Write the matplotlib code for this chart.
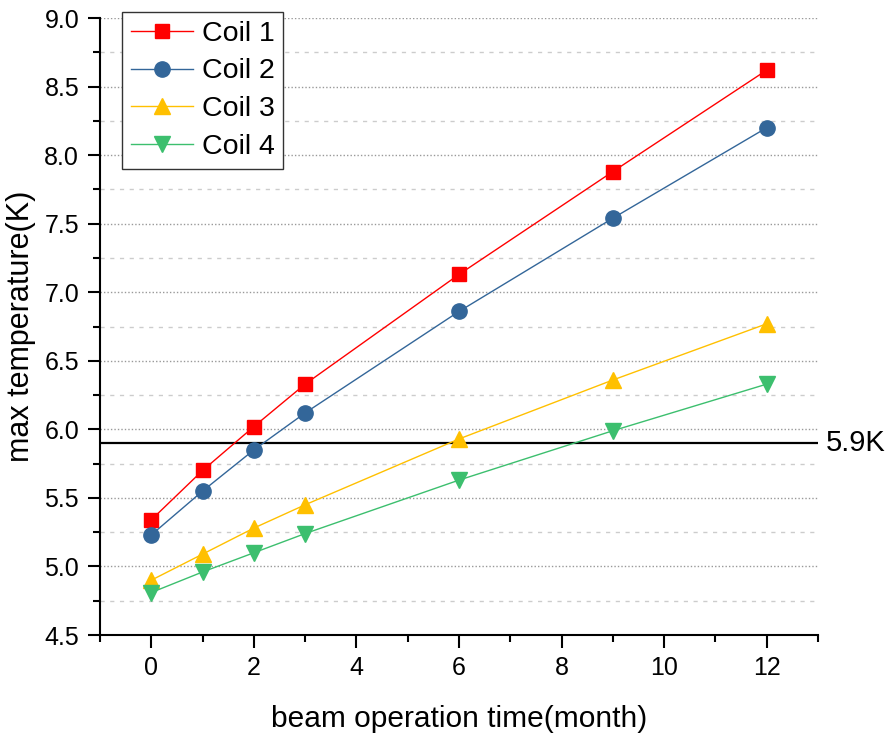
import numpy as np
import matplotlib
matplotlib.use("Agg")
import matplotlib.pyplot as plt
from matplotlib.ticker import MultipleLocator, FormatStrFormatter

plt.rcParams['font.family'] = ['Liberation Sans', 'DejaVu Sans']

months = [0, 1, 2, 3, 6, 9, 12]
coil1 = [5.34, 5.70, 6.02, 6.33, 7.13, 7.88, 8.62]
coil2 = [5.23, 5.55, 5.85, 6.12, 6.86, 7.54, 8.20]
coil3 = [4.90, 5.09, 5.28, 5.45, 5.93, 6.36, 6.77]
coil4 = [4.81, 4.96, 5.10, 5.24, 5.63, 5.99, 6.33]
limit = 5.9

fig = plt.figure(figsize=(8.88, 7.35), dpi=100)
ax = fig.add_axes([0.1126, 0.136, 0.8086, 0.8395])

ax.plot(months, coil1, color='#FF0000', marker='s', ms=10, mec='#FF0000', lw=1, label='Coil 1', zorder=5)
ax.plot(months, coil2, color='#336699', marker='o', ms=11, mec='#336699', lw=1, label='Coil 2', zorder=5)
ax.plot(months, coil3, color='#FFC000', marker='^', ms=12, mec='#FFC000', lw=1, label='Coil 3', zorder=5)
ax.plot(months, coil4, color='#3CBF6E', marker='v', ms=12, mec='#3CBF6E', lw=1, label='Coil 4', zorder=5)

ax.axhline(limit, color='black', lw=1.6, zorder=4)
ax.text(13.15, limit, '5.9K', fontsize=21, va='center', ha='left')

ax.set_xlim(-1, 13)
ax.set_ylim(4.5, 9.0)
ax.xaxis.set_major_locator(MultipleLocator(2))
ax.xaxis.set_minor_locator(MultipleLocator(1))
ax.yaxis.set_major_locator(MultipleLocator(0.5))
ax.yaxis.set_minor_locator(MultipleLocator(0.25))
ax.yaxis.set_major_formatter(FormatStrFormatter('%.1f'))

ax.grid(which='major', axis='y', color='#999999', ls=(0, (1, 1.5)), lw=1)
ax.grid(which='minor', axis='y', color='#cccccc', ls=(0, (3, 4)), lw=1)

for s in ['top', 'right']:
    ax.spines[s].set_visible(False)
for s in ['left', 'bottom']:
    ax.spines[s].set_linewidth(1.5)

ax.tick_params(which='major', direction='out', length=9, width=1.5, labelsize=18, pad=6)
ax.tick_params(which='minor', direction='out', length=5, width=1.5)

ax.set_xlabel('beam operation time(month)', fontsize=21.5, labelpad=18)
ax.set_ylabel('max temperature(K)', fontsize=22, labelpad=6)

leg = fig.legend(loc='upper left', bbox_to_anchor=(0.1374, 0.9837), fontsize=20.5,
                 handlelength=2.2, labelspacing=0.42, borderpad=0.3, handletextpad=0.3,
                 borderaxespad=0, fancybox=False, framealpha=1, edgecolor='#333333')
leg.get_frame().set_linewidth(1)

fig.savefig('out.png', dpi=100)
